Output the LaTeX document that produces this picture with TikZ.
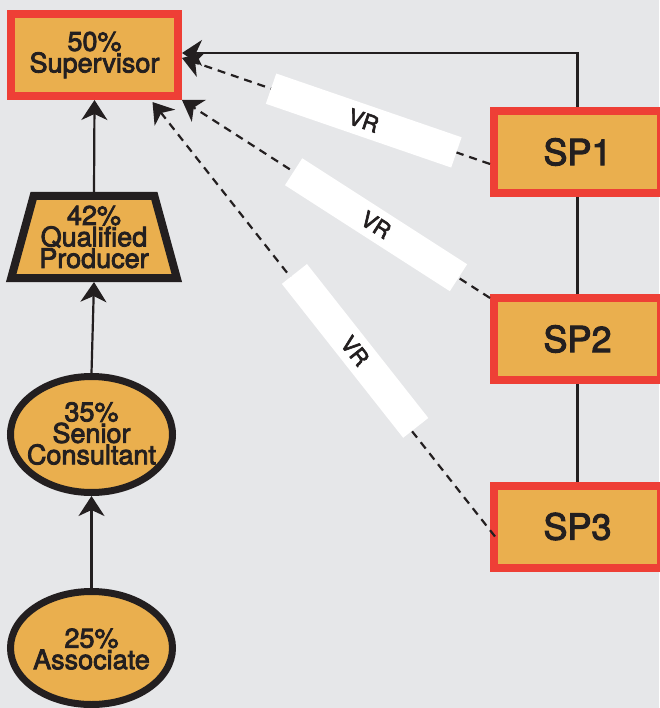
\documentclass[tikz,border=0pt]{standalone}
\usepackage{fontspec}
\setmainfont{TeX Gyre Heros}[FakeBold=3]
\usetikzlibrary{shapes.geometric,arrows.meta}
\definecolor{bg}{HTML}{E6E7E9}
\definecolor{org}{HTML}{EAAF4E}
\definecolor{redb}{HTML}{EE3F36}
\definecolor{ink}{HTML}{231F20}
\begin{document}
\begin{tikzpicture}[x=1pt,y=1pt,
  lbl/.style={font=\fontsize{27}{21.5}\selectfont, text=ink, align=center, inner sep=0pt},
  redbox/.style={rectangle, draw=redb, line width=8pt, fill=org, minimum width=167pt, minimum height=82pt, inner sep=0pt},
  spbox/.style={redbox, font=\fontsize{36}{36}\selectfont, text=ink},
  blk/.style={draw=ink, fill=org, inner sep=0pt},
  conn/.style={draw=ink, line width=2.2pt, -{Stealth[length=20pt 0 0,width=26pt 0 0,inset=6pt]}},
  dconn/.style={conn, dash pattern=on 8pt off 6pt},
  vr/.style={fill=white, minimum width=196pt, minimum height=32pt, inner sep=0pt, sloped, font=\fontsize{22}{22}\selectfont, text=ink}]

\useasboundingbox (0,0) rectangle (659,-708);
\fill[bg] (0,0) rectangle (659,-708);

% left column
\node[redbox, lbl] (sup) at (94.5,-55) {50\%\\Supervisor};
\node[blk, lbl, line width=8pt, trapezium, trapezium angle=71, trapezium stretches=true,
      minimum width=166pt, minimum height=82pt] (qp) at (94,-237) {\raisebox{-2pt}{\parbox{116pt}{\centering 42\%\\Qualified\\Producer}}};
\node[blk, line width=7pt, ellipse, minimum width=162pt, minimum height=116pt,
      label={[lbl, yshift=1pt]center:35\%\\Senior\\Consultant}] (sen) at (91.5,-434.5) {};
\node[blk, line width=7pt, ellipse, minimum width=162pt, minimum height=113pt,
      label={[lbl, yshift=-1pt]center:25\%\\Associate}] (asc) at (91.5,-648) {};

% right column
\node[spbox] (sp1) at (577.5,-152) {SP1};
\node[spbox] (sp2) at (577.5,-339) {SP2};
\node[spbox] (sp3) at (577.5,-526.5) {SP3};

% solid connectors
\draw[conn] (asc.north) -- (sen.south);
\draw[conn] (sen.north) -- (qp.south);
\draw[conn] (qp.north) -- (sup.south);
\draw[conn] (sp1.north) |- ([yshift=2pt]sup.east);
\draw[draw=ink, line width=2.2pt] (sp1.south) -- (sp2.north);
\draw[draw=ink, line width=2.2pt] (sp2.south) -- (sp3.north);

% dashed connectors with VR labels
\draw[dconn] ([yshift=-12pt]sp1.west) -- node[vr, pos=0.41] (vr1) {VR} ([yshift=-3pt]sup.east);
\draw[dconn] ([yshift=-4pt]sp2.north west) -- node[vr, pos=0.37] (vr2) {VR} (sup.south east);
\draw[dconn] ([shift={(5pt,-10pt)}]sp3.west) -- node[vr, pos=0.42, yshift=5pt] (vr3) {VR} ([shift={(58pt,-2pt)}]sup.south);
\end{tikzpicture}
\end{document}
